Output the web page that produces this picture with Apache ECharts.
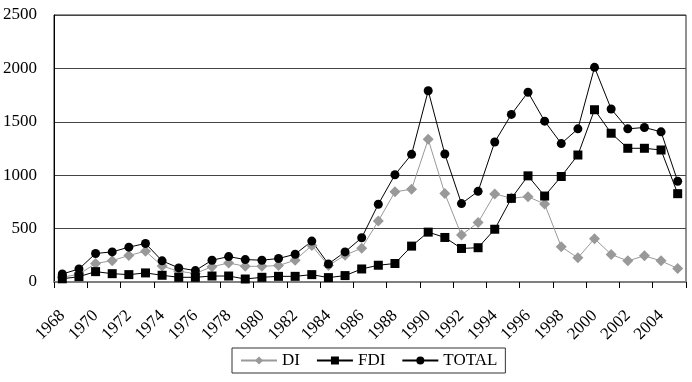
<!DOCTYPE html>
<html>
<head>
<meta charset="utf-8">
<script src="https://cdn.jsdelivr.net/npm/echarts@6/dist/echarts.min.js"></script>
<style>
  html, body { margin: 0; padding: 0; background: #fff; }
  #chart { width: 692px; height: 382px; }
</style>
</head>
<body>
<div id="chart"></div>
<script>
const years = ['1968', '1969', '1970', '1971', '1972', '1973', '1974', '1975', '1976', '1977',
  '1978', '1979', '1980', '1981', '1982', '1983', '1984', '1985', '1986', '1987',
  '1988', '1989', '1990', '1991', '1992', '1993', '1994', '1995', '1996', '1997',
  '1998', '1999', '2000', '2001', '2002', '2003', '2004', '2005'];

const di = [45, 72, 173, 200, 248, 289, 150, 100, 80, 143,
  178, 147, 147, 154, 204, 342, 154, 251, 317, 571,
  844, 869, 1336, 828, 439, 557, 824, 786, 799, 730,
  330, 226, 406, 258, 198, 245, 198, 126];

const fdi = [30, 50, 97, 78, 69, 85, 63, 44, 44, 56,
  56, 28, 44, 53, 53, 69, 41, 60, 122, 157,
  173, 336, 467, 417, 314, 321, 494, 783, 994, 805,
  988, 1189, 1613, 1393, 1252, 1252, 1236, 827];

const total = [75, 122, 267, 282, 326, 361, 198, 132, 107, 204,
  238, 210, 204, 220, 260, 383, 169, 282, 414, 728,
  1004, 1195, 1791, 1198, 734, 849, 1311, 1569, 1777, 1506,
  1296, 1434, 2010, 1620, 1434, 1447, 1406, 943];

const font = 'Liberation Serif';

const chart = echarts.init(document.getElementById('chart'));
chart.setOption({
  animation: false,
  grid: {
    left: 51,
    right: 6,
    top: 15,
    bottom: 100,
    show: true,
    borderColor: '#222',
    borderWidth: 1
  },
  legend: {
    top: 348,
    left: 232,
    orient: 'horizontal',
    borderColor: '#333',
    borderWidth: 1,
    padding: [4, 8],
    itemGap: 16,
    itemWidth: 36,
    itemHeight: 10,
    textStyle: { fontFamily: font, fontSize: 17, color: '#000' },
    data: ['DI', 'FDI', 'TOTAL']
  },
  xAxis: {
    type: 'category',
    data: years,
    boundaryGap: true,
    axisLine: { lineStyle: { color: '#808080', width: 2 } },
    axisTick: { show: true, length: 6, lineStyle: { color: '#000' } },
    axisLabel: {
      interval: 1,
      rotate: 45,
      margin: 31,
      fontFamily: font,
      fontSize: 17,
      color: '#000'
    },
    splitLine: { show: false }
  },
  yAxis: {
    type: 'value',
    min: 0,
    max: 2500,
    interval: 500,
    axisLine: { show: true, lineStyle: { color: '#000', width: 1 } },
    axisTick: { show: false },
    axisLabel: {
      margin: 17,
      fontFamily: font,
      fontSize: 17,
      color: '#000',
      formatter: function (v) { return String(v); }
    },
    splitLine: { lineStyle: { color: '#444', width: 1 } }
  },
  series: [
    {
      name: 'DI',
      type: 'line',
      data: di,
      symbol: 'diamond',
      symbolSize: 11,
      lineStyle: { color: '#999', width: 1 },
      itemStyle: { color: '#999' }
    },
    {
      name: 'FDI',
      type: 'line',
      data: fdi,
      symbol: 'rect',
      symbolSize: 9,
      lineStyle: { color: '#000', width: 1 },
      itemStyle: { color: '#000' }
    },
    {
      name: 'TOTAL',
      type: 'line',
      data: total,
      symbol: 'circle',
      symbolSize: 9,
      lineStyle: { color: '#000', width: 1 },
      itemStyle: { color: '#000' }
    }
  ]
});
</script>
</body>
</html>
